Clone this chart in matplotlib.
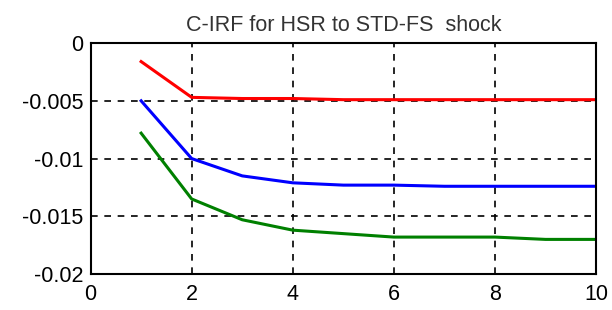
import numpy as np
import matplotlib
matplotlib.use("Agg")
import matplotlib.pyplot as plt

plt.rcParams['font.family'] = ['Liberation Sans', 'DejaVu Sans']

# horizon (periods)
periods = [1, 2, 3, 4, 5, 6, 7, 8, 9, 10]
# cumulative responses
red_irf = [-0.0016, -0.0047, -0.0048, -0.0048, -0.0049, -0.0049, -0.0049, -0.0049, -0.0049, -0.0049]
blue_irf = [-0.0050, -0.0100, -0.0115, -0.0121, -0.0123, -0.0123, -0.0124, -0.0124, -0.0124, -0.0124]
green_irf = [-0.0078, -0.0135, -0.0153, -0.0162, -0.0165, -0.0168, -0.0168, -0.0168, -0.0170, -0.0170]

xticks = [0, 2, 4, 6, 8, 10]
yticks = [0, -0.005, -0.01, -0.015, -0.02]
yticklabels = ['0', '-0.005', '-0.01', '-0.015', '-0.02']

fig = plt.figure(figsize=(6.12, 3.10), dpi=100)
ax = fig.add_axes([0.148, 0.116, 0.826, 0.745])

ax.plot(periods, red_irf, color='#ff0000', lw=2.2)
ax.plot(periods, blue_irf, color='#0000ff', lw=2.2)
ax.plot(periods, green_irf, color='#008000', lw=2.2)

ax.set_xlim(0, 10)
ax.set_ylim(-0.02, 0)
ax.set_xticks(xticks)
ax.set_yticks(yticks)
ax.set_yticklabels(yticklabels)
ax.grid(True, color='black', linestyle=(0, (4, 4)), linewidth=1.2)
ax.tick_params(labelsize=15.5, direction='in', length=0, color='#333333')
ax.tick_params(axis='x', pad=7)
ax.tick_params(axis='y', pad=5)
for s in ax.spines.values():
    s.set_linewidth(1.5)
ax.set_title('C-IRF for HSR to STD-FS  shock', fontsize=15.5, pad=9, color='#333333')

fig.savefig('out.png', dpi=100)
